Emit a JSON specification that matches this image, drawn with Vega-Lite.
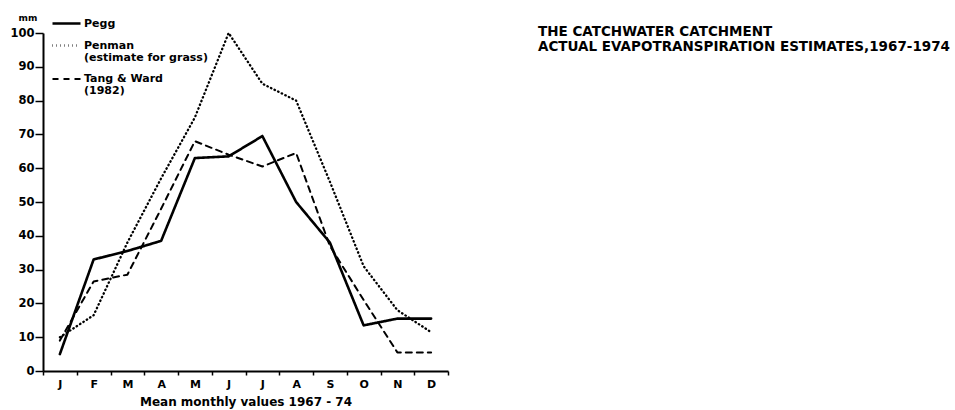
{
  "$schema": "https://vega.github.io/schema/vega-lite/v6.json",
  "autosize": "none",
  "padding": {"left": 43, "top": 33, "right": 507, "bottom": 39},
  "width": 405,
  "height": 338,
  "background": "white",
  "title": {
    "text": ["THE CATCHWATER CATCHMENT", "ACTUAL EVAPOTRANSPIRATION ESTIMATES,1967-1974"],
    "anchor": "start",
    "frame": "group",
    "orient": "top",
    "dx": 495,
    "offset": -45,
    "font": "DejaVu Sans",
    "fontSize": 13.5,
    "fontWeight": "bold",
    "lineHeight": 15,
    "color": "black"
  },
  "data": {
    "values": [
      {"month": "Jan", "series": "Pegg", "value": 5},
      {"month": "Feb", "series": "Pegg", "value": 33},
      {"month": "Mar", "series": "Pegg", "value": 35.5},
      {"month": "Apr", "series": "Pegg", "value": 38.5},
      {"month": "May", "series": "Pegg", "value": 63},
      {"month": "Jun", "series": "Pegg", "value": 63.5},
      {"month": "Jul", "series": "Pegg", "value": 69.5},
      {"month": "Aug", "series": "Pegg", "value": 50},
      {"month": "Sep", "series": "Pegg", "value": 38},
      {"month": "Oct", "series": "Pegg", "value": 13.5},
      {"month": "Nov", "series": "Pegg", "value": 15.5},
      {"month": "Dec", "series": "Pegg", "value": 15.5},
      {"month": "Jan", "series": "Penman", "value": 10},
      {"month": "Feb", "series": "Penman", "value": 16.5},
      {"month": "Mar", "series": "Penman", "value": 38},
      {"month": "Apr", "series": "Penman", "value": 57},
      {"month": "May", "series": "Penman", "value": 75},
      {"month": "Jun", "series": "Penman", "value": 100},
      {"month": "Jul", "series": "Penman", "value": 85},
      {"month": "Aug", "series": "Penman", "value": 80},
      {"month": "Sep", "series": "Penman", "value": 56},
      {"month": "Oct", "series": "Penman", "value": 31},
      {"month": "Nov", "series": "Penman", "value": 18},
      {"month": "Dec", "series": "Penman", "value": 11.5},
      {"month": "Jan", "series": "Tang & Ward", "value": 9},
      {"month": "Feb", "series": "Tang & Ward", "value": 26.5},
      {"month": "Mar", "series": "Tang & Ward", "value": 28.5},
      {"month": "Apr", "series": "Tang & Ward", "value": 48},
      {"month": "May", "series": "Tang & Ward", "value": 68},
      {"month": "Jun", "series": "Tang & Ward", "value": 64},
      {"month": "Jul", "series": "Tang & Ward", "value": 60.5},
      {"month": "Aug", "series": "Tang & Ward", "value": 64.5},
      {"month": "Sep", "series": "Tang & Ward", "value": 37},
      {"month": "Oct", "series": "Tang & Ward", "value": 21},
      {"month": "Nov", "series": "Tang & Ward", "value": 5.5},
      {"month": "Dec", "series": "Tang & Ward", "value": 5.5}
    ]
  },
  "mark": {"type": "line", "color": "black", "strokeCap": "round", "strokeJoin": "round"},
  "encoding": {
    "x": {
      "field": "month",
      "type": "ordinal",
      "bandPosition": 0.5,
      "sort": ["Jan", "Feb", "Mar", "Apr", "May", "Jun", "Jul", "Aug", "Sep", "Oct", "Nov", "Dec"],
      "scale": {"type": "band", "paddingInner": 0, "paddingOuter": 0},
      "axis": {
        "title": "Mean monthly values  1967 - 74",
        "titleFont": "DejaVu Sans",
        "titleFontSize": 12,
        "titleFontWeight": "bold",
        "titleColor": "black",
        "titleAnchor": "middle",
        "titlePadding": 7,
        "labelExpr": "substring(datum.label, 0, 1)",
        "labelAngle": 0,
        "labelFont": "DejaVu Sans",
        "labelFontSize": 11,
        "labelFontWeight": "bold",
        "labelColor": "black",
        "labelPadding": 3,
        "tickBand": "extent",
        "tickSize": 4,
        "tickWidth": 1.5,
        "tickColor": "black",
        "domainColor": "black",
        "domainWidth": 2,
        "grid": false
      }
    },
    "y": {
      "field": "value",
      "type": "quantitative",
      "scale": {"domain": [0, 100], "nice": false},
      "axis": {
        "title": "mm",
        "titleAngle": 0,
        "titleAlign": "left",
        "titleBaseline": "alphabetic",
        "titleX": -25,
        "titleY": -13,
        "titleFont": "DejaVu Sans",
        "titleFontSize": 9,
        "titleFontWeight": "bold",
        "titleColor": "black",
        "values": [0, 10, 20, 30, 40, 50, 60, 70, 80, 90, 100],
        "labelFont": "DejaVu Sans",
        "labelFontSize": 11.5,
        "labelFontWeight": "bold",
        "labelColor": "black",
        "labelPadding": 1,
        "tickSize": 8,
        "tickWidth": 1.5,
        "tickColor": "black",
        "domainColor": "black",
        "domainWidth": 2,
        "grid": false
      }
    },
    "strokeDash": {
      "field": "series",
      "type": "nominal",
      "scale": {
        "domain": ["Pegg", "Penman", "Tang & Ward"],
        "range": [[1, 0], [0.5, 3.5], [6, 5]]
      },
      "legend": {
        "orient": "none",
        "legendX": 8,
        "legendY": -25,
        "title": null,
        "symbolType": "stroke",
        "symbolSize": 784,
        "symbolStrokeWidth": 2,
        "symbolStrokeColor": "black",
        "labelExpr": "datum.label == 'Penman' ? ['Penman', '(estimate for grass)'] : datum.label == 'Tang & Ward' ? ['Tang & Ward', '(1982)'] : datum.label",
        "labelFont": "DejaVu Sans",
        "labelFontSize": 11,
        "labelFontWeight": "bold",
        "labelColor": "black",
        "labelOffset": 2,
        "rowPadding": 1,
        "encode": {"labels": {"update": {"lineHeight": {"value": 12}}}}
      }
    },
    "strokeWidth": {
      "field": "series",
      "type": "nominal",
      "scale": {"domain": ["Pegg", "Penman", "Tang & Ward"], "range": [2.6, 2, 1.6]},
      "legend": null
    }
  },
  "config": {
    "view": {"stroke": null},
    "font": "DejaVu Sans"
  }
}
